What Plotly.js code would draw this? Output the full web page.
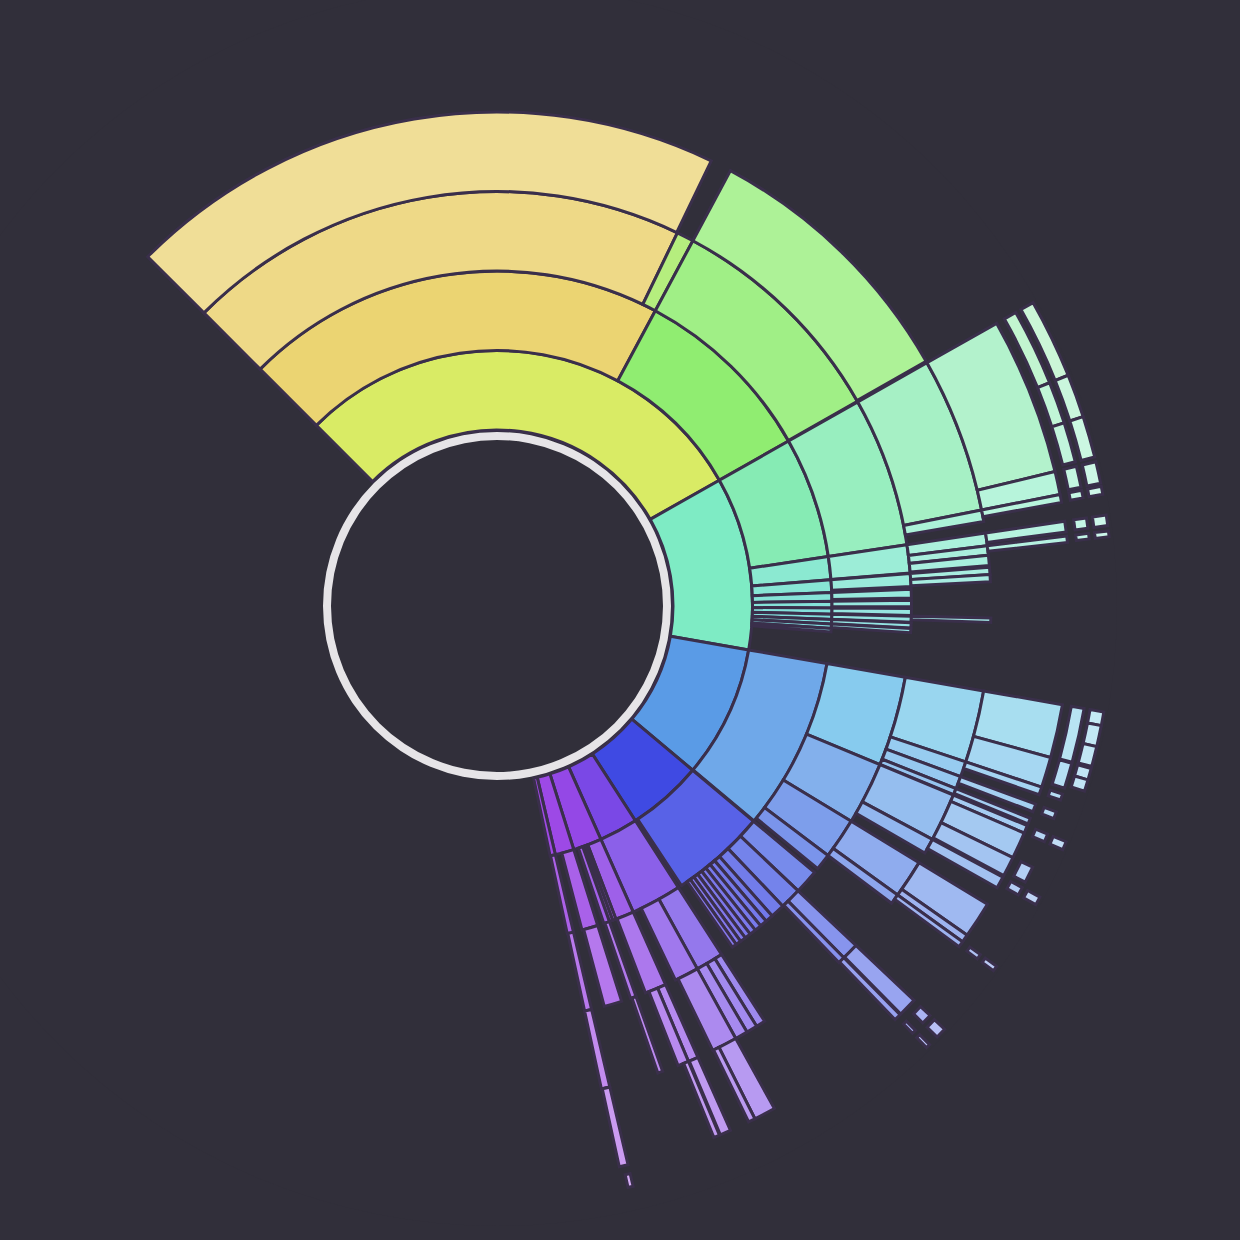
<!DOCTYPE html>
<html><head><meta charset="utf-8">
<script src="https://cdn.plot.ly/plotly-3.0.1.min.js"></script>
<style>
html,body{margin:0;padding:0;background:#312f3a;overflow:hidden;width:1240px;height:1240px;}
#chart{position:absolute;left:-123.5px;top:-14.5px;width:1240px;height:1240px;}
</style></head><body><div id="chart"></div>
<script>
// Hierarchy: node ids, their parents, and their sizes (angular share, root = 360)
const ids = [
 'root',
 'Y1','C1','B1','I1','V1','P1','P2','P3',
 'Y2','G2','Y3','L3','G3','Y4','G4',
 'C2a','C2b','C2c','C2d','C2e','C2f','C2g','C2h','C2i','C2j',
 'C3a','C3b','C3c','C3d','C3e','C3f','C3g','C3h','C3i',
 'C4a','C4b','C4c','C4d','C4e','C4f','C4g','C4h',
 'C5a','C5b','C5c','C5d','C5e',
 'C6a','C6b','C6c','C6d','C6e','C6f','C6g',
 'C7a','C7b','C7c','C7d','C7e','C7f','C7g',
 'B2','B3a','B3b','B3c','B3d',
 'B4a','B4b','B4c','B4d','B4e','B4f','B4g','B4h',
 'B5a','B5b','B5c','B5d','B5x','B5e','B5f','B5k','B5m','B5g','B5h','B5i',
 'B6a','B6b','B6c','B6d','B6e','B6k','B6m','B6f',
 'B7a','B7b','B7c','B7d','B7e','B7f','B7m','B7g',
 'I2','I3a','I3b','I3c','I3d','I3e','I3f','I3g','I3h','I3i','I3j','I3k',
 'I4a','I4b','I5a','I5b','I6a','I6b','I7a','I7b',
 'V2','V3a','V3b','V4a','V4b','V4c','V4d','V5a','V5b',
 'P1a','P1b','P1c','P1d','P1a3','P1d3','P1e4','P1f4','P1g4','P1e5','P1f5',
 'P2a','P2b',
 'P3a','P3b','P3c','P3d','P3e'
];
const parents = [
 '',
 'root','root','root','root','root','root','root','root',
 'Y1','Y1','Y2','Y2','G2','Y3','G3',
 'C1','C1','C1','C1','C1','C1','C1','C1','C1','C1',
 'C2a','C2b','C2c','C2d','C2e','C2f','C2g','C2h','C2i',
 'C3a','C3a','C3b','C3b','C3b','C3c','C3c','C3g',
 'C4a','C4a','C4b','C4c','C4d',
 'C5a','C5a','C5a','C5b','C5c','C5d','C5e',
 'C6a','C6b','C6c','C6d','C6e','C6f','C6g',
 'B1','B2','B2','B2','B2',
 'B3a','B3a','B3a','B3a','B3b','B3b','B3c','B3c',
 'B4a','B4a','B4b','B4c','B4d','B4e','B4e','B4e','B4f','B4g','B4g','B4h',
 'B5a','B5b','B5c','B5d','B5e','B5k','B5m','B5i',
 'B6a','B6a','B6a','B6b','B6b','B6e','B6m','B6f',
 'I1','I2','I2','I2','I2','I2','I2','I2','I2','I2','I2','I2',
 'I3b','I3b','I4a','I4b','I5a','I5b','I6a','I6b',
 'V1','V2','V2','V3a','V3a','V3a','V3b','V4d','V4d',
 'P1','P1','P1','P1','P1a','P1d','P1a3','P1a3','P1d3','P1e4','P1f4',
 'P2','P2a',
 'P3','P3a','P3b','P3c','P3d'
];
const values = [
 360,
 105.5,39.4,30.1,17.2,8.8,6.5,4.3,1.2,
 73.2,32.3,70.8,2.4,32.2,70.7,32.1,
 21.0,4.0,2.2,1.5,1.15,1.05,0.9,0.8,0.75,0.6,
 21.0,3.95,1.8,1.2,0.9,0.95,0.85,0.75,0.6,
 18.3,1.35,1.5,1.1,1.2,0.85,0.85,0.5,
 15.95,2.35,0.8,1.1,0.65,
 7.5,4.1,3.9,2.05,0.75,1.0,0.55,
 7.5,4.1,3.9,2.05,0.75,1.0,0.55,
 30.0,12.6,8.8,5.7,2.3,
 8.5,1.8,1.5,0.75,5.7,1.8,4.5,1.2,
 5.4,3.1,0.8,0.8,0.6,0.8,2.7,2.0,1.2,3.7,0.8,0.6,
 5.3,2.5,0.6,0.7,0.8,1.6,0.8,0.5,
 1.3,2.0,1.9,1.1,1.1,0.8,0.8,0.5,
 16.6,3.4,3.0,2.0,1.1,1.0,0.95,0.9,0.85,0.8,0.75,0.65,
 2.0,0.8,1.9,0.7,1.0,0.4,1.0,0.4,
 8.8,3.9,3.4,1.1,1.3,1.5,3.0,2.2,0.7,
 3.2,0.6,0.6,1.0,3.0,0.8,1.2,1.3,0.6,1.1,0.6,
 2.8,2.5,
 1.1,1.0,1.0,0.9,0.5
];

// ring geometry (inner radius, thickness) per depth, in px
const ringBase = [0, 176, 255.5, 335, 414.5, 494, 583, 602];
const ringSize = [0, 79.5, 79.5, 79.5, 79.5, 80, 13, 14];

// colour ramp along the sweep (degrees clockwise from start) and lightening per depth
const rampPos = [0, 36, 53, 72, 89, 116, 125, 140, 151, 160, 172, 183.6, 190, 196.6, 204, 213];
const rampCol = ['#f0a050','#e8cd5d','#d9eb65','#9be851','#7fea5b','#74e8a9','#7eebc4','#6cd6dc',
                 '#5dbae8','#5a9be6','#4c72e4','#3f4ae3','#5a48e5','#7a48e6','#9448e6','#a24ae6'];
const lighten = [0, 0, 0.13, 0.26, 0.36, 0.45, 0.55, 0.62];

function hex2rgb(h){return [1,3,5].map(i=>parseInt(h.substr(i,2),16));}
function ramp(a){
  if(a<=rampPos[0]) return hex2rgb(rampCol[0]);
  for(let i=1;i<rampPos.length;i++){
    if(a<=rampPos[i]){
      const t=(a-rampPos[i-1])/(rampPos[i]-rampPos[i-1]);
      const c0=hex2rgb(rampCol[i-1]), c1=hex2rgb(rampCol[i]);
      return c0.map((v,k)=>v+(c1[k]-v)*t);
    }
  }
  return hex2rgb(rampCol[rampCol.length-1]);
}
function nodeColor(mid, depth){
  const c=ramp(mid), f=lighten[Math.min(depth,lighten.length-1)];
  const m=c.map(v=>Math.round(v+(255-v)*f));
  return 'rgb('+m.join(',')+')';
}

// partition layout: children placed one after another from the parent's start
const n=ids.length, idx={};
ids.forEach((id,i)=>idx[id]=i);
const start=new Array(n), depth=new Array(n), cursor={};
for(let i=0;i<n;i++){
  const p=parents[i];
  if(p===''){start[i]=0;depth[i]=0;continue;}
  const pi=idx[p];
  const s=(cursor[p]!==undefined)?cursor[p]:start[pi];
  start[i]=s; cursor[p]=s+values[i]; depth[i]=depth[pi]+1;
}
const th=[],wd=[],bs=[],rr=[],col=[];
for(let i=0;i<n;i++){
  if(depth[i]===0) continue;
  const mid=start[i]+values[i]/2;
  th.push(mid); wd.push(values[i]);
  bs.push(ringBase[depth[i]]); rr.push(ringSize[depth[i]]);
  col.push(nodeColor(mid, depth[i]));
}

const traces=[
 {type:'barpolar', theta:th, width:wd, base:bs, r:rr,
  marker:{color:col, line:{color:'#3a2f4b', width:3}}, hoverinfo:'skip', showlegend:false},
 {type:'barpolar', theta:[0], width:[360], base:[166], r:[8],
  marker:{color:'#e6e4e7', line:{width:0}}, hoverinfo:'skip', showlegend:false}
];
const layout={
 width:1240, height:1240, margin:{l:0,r:0,t:0,b:0},
 paper_bgcolor:'#312f3a', plot_bgcolor:'#312f3a', showlegend:false,
 polar:{domain:{x:[0,1],y:[0,1]}, bgcolor:'#312f3a', barmode:'overlay',
   radialaxis:{visible:false, range:[0,620]},
   angularaxis:{visible:false, direction:'clockwise', rotation:135}}
};
Plotly.newPlot('chart', traces, layout, {staticPlot:true});
</script></body></html>
